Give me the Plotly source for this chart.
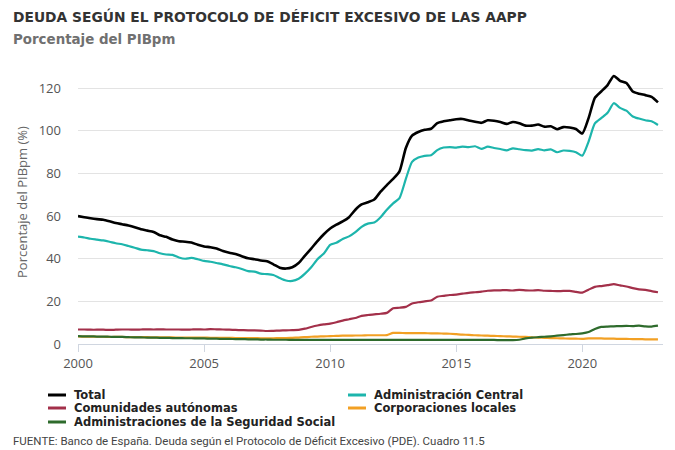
import pandas as pd
import plotly.graph_objects as go

# Quarterly observations, 2000 Q1 .. 2023 Q1
quarters = pd.period_range("2000Q1", "2023Q1", freq="Q").to_timestamp(how="start")

total = [
    60.0, 59.5, 59.0, 58.6,
    58.3, 57.6, 56.8, 56.2,
    55.6, 54.8, 53.8, 53.2,
    52.6, 51.0, 50.3, 49.0,
    48.2, 48.0, 47.6, 46.6,
    45.8, 45.4, 44.8, 43.6,
    42.8, 42.2, 41.2, 40.2,
    39.8, 39.2, 38.8, 37.4,
    35.8, 35.4, 36.0, 38.0,
    41.5, 44.8, 48.3, 51.5,
    54.2, 56.0, 57.5, 59.5,
    63.0, 65.5, 66.5, 67.8,
    71.5, 74.6, 77.5, 81.0,
    92.0, 97.8, 99.5, 100.5,
    101.0, 103.7, 104.5, 105.0,
    105.5, 105.6, 104.9, 104.3,
    103.8, 105.0, 104.8, 104.2,
    103.3, 104.2, 103.6, 102.5,
    102.5, 103.0, 102.0, 102.2,
    100.8, 101.8, 101.6, 100.9,
    98.8, 106.0, 115.5, 118.5,
    121.5, 125.8, 123.5, 122.5,
    118.5, 117.5, 116.8, 116.0,
    113.4,
]

central = [
    50.4, 50.0, 49.4, 49.0,
    48.6, 48.0, 47.3, 46.8,
    46.0, 45.2, 44.3, 44.0,
    43.6, 42.6, 42.0, 41.8,
    40.6, 40.0, 40.4, 39.8,
    39.0, 38.6, 38.0, 37.4,
    36.6, 36.0, 35.2, 34.2,
    34.0, 33.0, 32.8, 32.4,
    31.0, 29.8, 29.6, 30.6,
    33.0, 36.0, 39.8, 42.5,
    46.5, 47.5, 49.3, 50.5,
    52.5, 55.0, 56.5, 57.0,
    59.5, 63.0, 66.0, 68.5,
    77.5, 85.5, 87.5, 88.3,
    88.6, 91.0, 92.2, 92.4,
    92.2, 92.6, 92.4, 92.8,
    91.6, 92.6, 92.0, 91.5,
    90.9, 91.8, 91.4, 91.0,
    90.8, 91.5, 90.9, 91.3,
    90.0, 90.8, 90.6, 90.0,
    88.4, 95.0, 103.5, 106.0,
    108.5, 113.0, 110.8, 109.5,
    106.8, 105.8, 105.0, 104.5,
    102.8,
]

ccaa = [
    6.8, 6.8, 6.7, 6.7,
    6.7, 6.6, 6.7, 6.8,
    6.8, 6.7, 6.8, 6.9,
    6.8, 6.9, 6.8, 6.8,
    6.8, 6.7, 6.8, 6.9,
    6.8, 7.0, 6.9, 6.8,
    6.7, 6.6, 6.5, 6.4,
    6.4, 6.3, 6.1, 6.2,
    6.3, 6.4, 6.5, 6.6,
    7.2, 8.0, 8.7, 9.2,
    9.6, 10.2, 11.0, 11.6,
    12.2, 13.2, 13.6, 13.9,
    14.2, 14.6, 16.8, 17.0,
    17.4, 19.0, 19.6, 20.0,
    20.4, 22.2, 22.6, 23.0,
    23.2, 23.6, 24.0, 24.3,
    24.6, 25.0, 25.2, 25.2,
    25.3, 25.1, 25.4, 25.2,
    25.1, 25.3, 25.0, 24.9,
    24.8, 24.9, 24.9, 24.5,
    24.1, 25.5, 26.8, 27.2,
    27.6, 28.1, 27.5, 27.0,
    26.2, 25.6, 25.4, 24.8,
    24.3,
]

ccll = [
    3.6, 3.5, 3.5, 3.4,
    3.4, 3.3, 3.3, 3.3,
    3.2, 3.2, 3.2, 3.2,
    3.1, 3.1, 3.1, 3.1,
    3.0, 3.0, 3.0, 3.0,
    3.0, 2.9, 2.9, 2.9,
    2.9, 2.8, 2.8, 2.8,
    2.8, 2.7, 2.7, 2.7,
    2.8, 2.8, 2.9, 3.0,
    3.2, 3.4, 3.5, 3.6,
    3.7, 3.8, 3.9, 3.9,
    4.0, 4.0, 4.1, 4.1,
    4.1, 4.2, 5.2, 5.2,
    5.1, 5.1, 5.1, 5.1,
    5.0, 5.0, 4.9, 4.8,
    4.6, 4.4, 4.3, 4.1,
    4.0, 3.9, 3.8, 3.7,
    3.6, 3.5, 3.4, 3.3,
    3.1, 3.0, 2.9, 2.8,
    2.7, 2.6, 2.5, 2.5,
    2.4, 2.6, 2.6, 2.6,
    2.5, 2.5, 2.4, 2.4,
    2.3, 2.3, 2.2, 2.2,
    2.2,
]

seg_social = [
    3.7, 3.6, 3.6, 3.5,
    3.5, 3.4, 3.3, 3.3,
    3.2, 3.1, 3.1, 3.0,
    3.0, 2.9, 2.9, 2.8,
    2.8, 2.7, 2.7, 2.6,
    2.6, 2.5, 2.5, 2.4,
    2.4, 2.3, 2.3, 2.2,
    2.2, 2.1, 2.1, 2.0,
    2.0, 2.0, 1.9, 1.9,
    1.9, 1.9, 1.9, 1.9,
    1.9, 1.9, 1.9, 1.9,
    1.9, 1.9, 1.9, 1.9,
    1.9, 1.9, 1.9, 1.9,
    1.9, 1.9, 1.9, 1.9,
    1.9, 1.9, 1.9, 1.9,
    1.9, 1.9, 1.9, 1.9,
    1.9, 1.9, 1.9, 1.8,
    1.8, 1.8, 2.0, 2.6,
    3.0, 3.2, 3.4, 3.6,
    3.9, 4.2, 4.5, 4.7,
    5.0, 5.6, 7.0, 8.0,
    8.2, 8.3, 8.4, 8.5,
    8.4, 8.6, 8.3, 8.2,
    8.6,
]

series = [
    ("Total", total, "#000000", 2.6),
    ("Administración Central", central, "#1DB5AC", 2.2),
    ("Comunidades autónomas", ccaa, "#A3304A", 2.2),
    ("Corporaciones locales", ccll, "#F2A024", 2.2),
    ("Administraciones de la Seguridad Social", seg_social, "#2E6B2C", 2.2),
]

year_ticks = ["2000", "2005", "2010", "2015", "2020"]

ML, MR, MT, MB = 78, 12, 67, 106
PW, PH = 675 - ML - MR, 450 - MT - MB

def px_x(px):
    return (px - ML) / PW

def px_y(py):
    return (450 - MB - py) / PH

fig = go.Figure()
for name, vals, color, w in series:
    fig.add_trace(go.Scatter(x=quarters, y=vals, mode="lines", name=name,
                             line=dict(color=color, width=w, shape="spline", smoothing=0.6)))

# Manual two-column legend (layout decoration only)
legend_slots = [(48, 395), (348, 395), (48, 408), (348, 408), (48, 422)]
shapes = []
annotations = []
for (name, vals, color, w), (lx, ly) in zip(series, legend_slots):
    shapes.append(dict(type="line", xref="paper", yref="paper",
                       x0=px_x(lx), x1=px_x(lx + 18), y0=px_y(ly), y1=px_y(ly),
                       line=dict(color=color, width=3)))
    annotations.append(dict(text="<b>" + name + "</b>", xref="paper", yref="paper",
                            x=px_x(lx + 24), y=px_y(ly), xanchor="left", yanchor="middle",
                            showarrow=False,
                            font=dict(family="DejaVu Sans", size=11.5, color="#222")))

annotations += [
    dict(text="<b>DEUDA SEGÚN EL PROTOCOLO DE DÉFICIT EXCESIVO DE LAS AAPP</b>",
         xref="paper", yref="paper", x=px_x(11), y=px_y(16), xanchor="left", yanchor="middle",
         showarrow=False, font=dict(family="DejaVu Sans", size=13.8, color="#333")),
    dict(text="<b>Porcentaje del PIBpm</b>",
         xref="paper", yref="paper", x=px_x(11), y=px_y(40), xanchor="left", yanchor="middle",
         showarrow=False, font=dict(family="DejaVu Sans", size=13.4, color="#707070")),
    dict(text="Porcentaje del PIBpm (%)", textangle=-90,
         xref="paper", yref="paper", x=px_x(22), y=px_y(202), xanchor="center", yanchor="middle",
         showarrow=False, font=dict(family="Open Sans", size=13, color="#666")),
    dict(text="FUENTE: Banco de España. Deuda según el Protocolo de Déficit Excesivo (PDE). Cuadro 11.5",
         xref="paper", yref="paper", x=px_x(11), y=px_y(441), xanchor="left", yanchor="middle",
         showarrow=False, font=dict(family="Roboto", size=11.5, color="#444")),
]

fig.update_layout(
    width=675, height=450,
    margin=dict(l=ML, r=MR, t=MT, b=MB, autoexpand=False),
    paper_bgcolor="white", plot_bgcolor="white",
    font=dict(family="DejaVu Sans", color="#333"),
    showlegend=False,
    xaxis=dict(type="date", range=["2000-01-01", "2023-03-15"],
               tickvals=[pd.Timestamp(y + "-01-01") for y in year_ticks], ticktext=year_ticks,
               showgrid=False, showline=True, linecolor="#d0d6e0", linewidth=1,
               ticks="outside", ticklen=7, tickcolor="#d0d6e0",
               tickfont=dict(family="Open Sans", size=13, color="#555"), zeroline=False),
    yaxis=dict(range=[0, 130], tickvals=[0, 20, 40, 60, 80, 100, 120],
               showgrid=True, gridcolor="#e3e3e3", gridwidth=1, zeroline=False,
               showline=False, ticks="", ticklabelstandoff=16,
               tickfont=dict(family="Open Sans", size=13, color="#555")),
    shapes=shapes,
    annotations=annotations,
)

fig.write_html("out.html")
